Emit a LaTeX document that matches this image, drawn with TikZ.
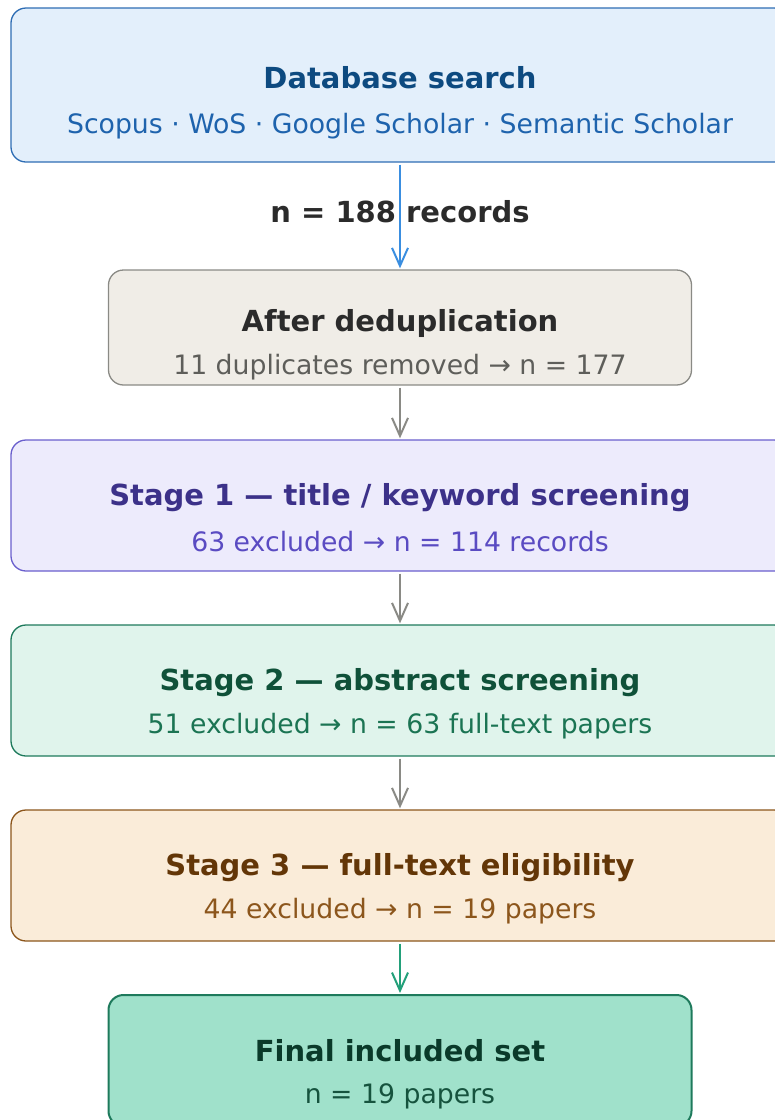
\documentclass[tikz,border=0pt]{standalone}
\usepackage{fontspec}
\setmainfont{DejaVu Sans}
\usetikzlibrary{arrows.meta,positioning}

% colours
\definecolor{dbfill}{HTML}{E3EFFB}
\definecolor{dbline}{HTML}{2E6DB4}
\definecolor{dbtitle}{HTML}{0D4A80}
\definecolor{dbsub}{HTML}{1E63AD}
\definecolor{dbarrow}{HTML}{3A8EE0}
\definecolor{darktext}{HTML}{2B2B2B}
\definecolor{ddfill}{HTML}{F0EDE7}
\definecolor{ddline}{HTML}{8A8A85}
\definecolor{ddsub}{HTML}{5E5E5A}
\definecolor{sonefill}{HTML}{EDEBFC}
\definecolor{soneline}{HTML}{6A5FCD}
\definecolor{sonetitle}{HTML}{3C3189}
\definecolor{sonesub}{HTML}{5A4BC2}
\definecolor{stwofill}{HTML}{E0F4EC}
\definecolor{stwoline}{HTML}{1E7A5C}
\definecolor{stwotitle}{HTML}{0F5139}
\definecolor{stwosub}{HTML}{1B7453}
\definecolor{sthreefill}{HTML}{FAECD9}
\definecolor{sthreeline}{HTML}{8C561C}
\definecolor{sthreetitle}{HTML}{633607}
\definecolor{sthreesub}{HTML}{8C561C}
\definecolor{finalarrow}{HTML}{23A07A}
\definecolor{finalfill}{HTML}{A0E1CB}
\definecolor{finaltitle}{HTML}{0A3A2A}
\definecolor{finalsub}{HTML}{16533E}

\begin{document}
\begin{tikzpicture}[x=1pt, y=1pt,
    stagebox/.style={draw, rounded corners=15pt, line width=1.3pt, inner sep=0pt,
      minimum width=778pt, minimum height=131pt},
    narrowbox/.style={stagebox, minimum width=583pt, minimum height=115pt},
    boxtitle/.style={anchor=base, font=\fontsize{29}{32}\selectfont\bfseries},
    boxsub/.style={anchor=base, font=\fontsize{26.7}{30}\selectfont},
    flow/.style={-{Straight Barb[length=18pt,width=16pt]}, line width=2pt,
      shorten <=2pt, shorten >=1pt}]

    \useasboundingbox (0,0) rectangle (775,-1120);
    \clip (0,0) rectangle (775,-1120);

    % Database search
    \node[stagebox, fill=dbfill, draw=dbline, minimum height=154pt] (db) at (400,-85) {};
    \node[boxtitle, dbtitle] (dbT) at ([yshift=-3pt]db.center) {Database search};
    \node[boxsub, dbsub] (dbS) at ([yshift=-48pt]db.center) {Scopus · WoS · Google Scholar · Semantic Scholar};

    % After deduplication
    \node[narrowbox, fill=ddfill, draw=ddline] (dedup) at (400,-327.5) {};
    \node[boxtitle, darktext] (dedupT) at ([yshift=-4pt]dedup.center) {After deduplication};
    \node[boxsub, ddsub] (dedupS) at ([yshift=-46.5pt]dedup.center) {11 duplicates removed → n = 177};

    % Stage 1
    \node[stagebox, fill=sonefill, draw=soneline] (sone) at (400,-505.5) {};
    \node[boxtitle, sonetitle] (soneT) at ([yshift=-0pt]sone.center) {Stage 1 — title / keyword screening};
    \node[boxsub, sonesub] (soneS) at ([yshift=-46pt]sone.center) {63 excluded → n = 114 records};

    % Stage 2
    \node[stagebox, fill=stwofill, draw=stwoline] (stwo) at (400,-690.5) {};
    \node[boxtitle, stwotitle] (stwoT) at ([yshift=0pt]stwo.center) {Stage 2 — abstract screening};
    \node[boxsub, stwosub] (stwoS) at ([yshift=-43pt]stwo.center) {51 excluded → n = 63 full-text papers};

    % Stage 3
    \node[stagebox, fill=sthreefill, draw=sthreeline] (sthree) at (400,-875.5) {};
    \node[boxtitle, sthreetitle] (sthreeT) at ([yshift=0pt]sthree.center) {Stage 3 — full-text eligibility};
    \node[boxsub, sthreesub] (sthreeS) at ([yshift=-43pt]sthree.center) {44 excluded → n = 19 papers};

    % Final included set
    \node[narrowbox, fill=finalfill, draw=stwoline, line width=2pt, minimum height=131pt] (final) at (400,-1060.5) {};
    \node[boxtitle, finaltitle] (finalT) at ([yshift=-1pt]final.center) {Final included set};
    \node[boxsub, finalsub] (finalS) at ([yshift=-43pt]final.center) {n = 19 papers};

    % Record count
    \node[boxtitle, darktext] (count) at (400,-222) {n = 188 records};

    % Arrows
    \draw[flow, dbarrow] (db) -- (dedup);
    \draw[flow, ddline] (dedup) -- (sone);
    \draw[flow, ddline] (sone) -- (stwo);
    \draw[flow, ddline] (stwo) -- (sthree);
    \draw[flow, finalarrow] (sthree) -- (final);
\end{tikzpicture}
\end{document}
